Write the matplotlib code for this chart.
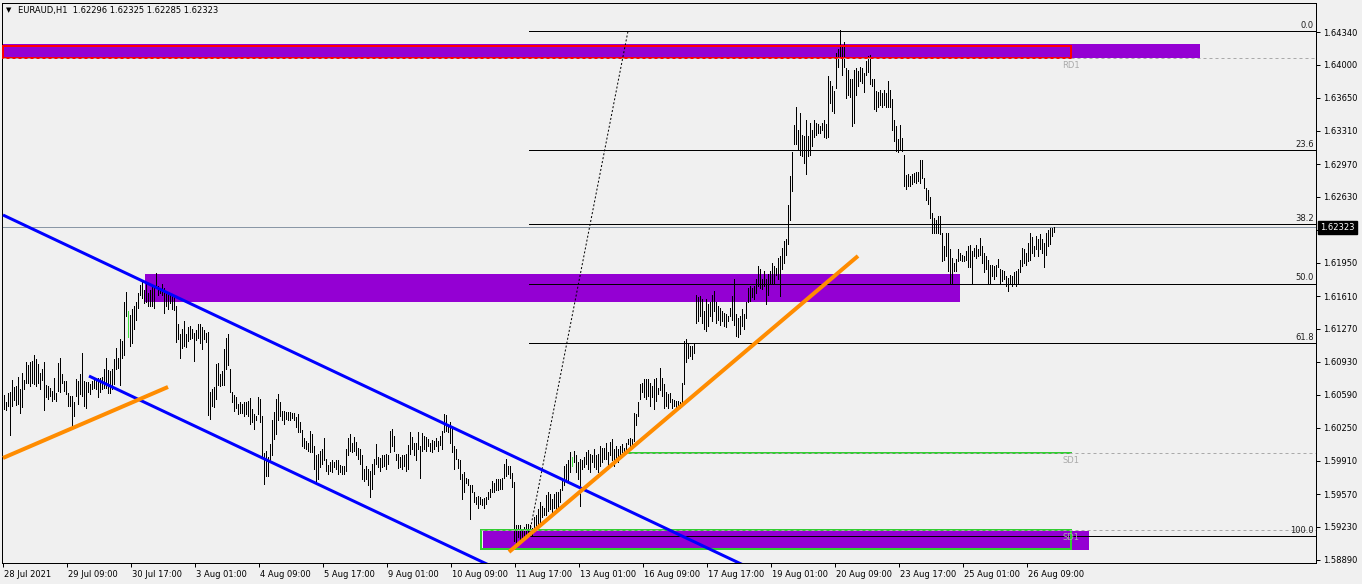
import numpy as np
import matplotlib
matplotlib.use("Agg")
import matplotlib.pyplot as plt
from matplotlib.transforms import ScaledTranslation

W, H, DPI = 1362, 584, 100

# ---------------------------------------------------------------
# EURAUD H1 bars, high / low in pips (units of 0.0001)
# ---------------------------------------------------------------
high_a = [16059, 16052, 16061, 16062, 16075, 16068, 16069, 16078, 16065, 16082,
          16075, 16093, 16090, 16093, 16094, 16101, 16096, 16091, 16082, 16086,
          16093, 16070, 16069, 16067, 16063, 16077, 16061, 16092, 16098, 16081,
          16074, 16074, 16061, 16058, 16058, 16052, 16076, 16074, 16081, 16103,
          16074, 16073, 16073, 16071, 16074, 16077, 16077, 16077, 16077, 16078,
          16086, 16097, 16085, 16084, 16086, 16096, 16108, 16098, 16117, 16115,
          16155, 16166, 16146, 16142, 16148, 16151, 16155, 16165, 16173, 16178,
          16168, 16176, 16165, 16168, 16172, 16170, 16185, 16172, 16170, 16174,
          16170, 16166, 16165, 16165, 16164, 16161, 16151, 16133, 16122, 16127,
          16136, 16122, 16129, 16131, 16127, 16123, 16126, 16133, 16133, 16129,
          16126, 16123, 16124, 16062, 16065, 16068, 16091, 16092, 16081, 16084,
          16107, 16118, 16122, 16086, 16062, 16059, 16057, 16050, 16052, 16050,
          16052, 16052, 16053, 16056, 16045, 16040, 16038, 16057, 16055, 16038,
          15999]
low_a = [16045, 16044, 16048, 16018, 16048, 16054, 16049, 16050, 16041, 16047,
         16065, 16072, 16072, 16069, 16072, 16071, 16069, 16072, 16065, 16075,
         16044, 16057, 16055, 16058, 16053, 16055, 16053, 16063, 16062, 16072,
         16063, 16060, 16048, 16048, 16026, 16038, 16058, 16050, 16060, 16058,
         16048, 16046, 16062, 16060, 16065, 16067, 16065, 16057, 16062, 16066,
         16067, 16067, 16061, 16061, 16065, 16071, 16086, 16087, 16070, 16098,
         16101, 16141, 16119, 16110, 16113, 16127, 16137, 16149, 16163, 16159,
         16154, 16155, 16151, 16151, 16151, 16149, 16172, 16163, 16165, 16163,
         16144, 16151, 16148, 16154, 16148, 16147, 16114, 16117, 16097, 16108,
         16110, 16109, 16115, 16117, 16118, 16094, 16116, 16118, 16113, 16107,
         16117, 16114, 16039, 16035, 16048, 16047, 16055, 16070, 16069, 16070,
         16070, 16086, 16090, 16062, 16052, 16043, 16046, 16040, 16041, 16041,
         16038, 16040, 16038, 16029, 16031, 16024, 16033, 16040, 16031, 15995,
         15967]

high_b = [16001, 15995, 16009, 16034, 16042, 16055, 16060, 16052, 16043, 16043,
          16042, 16042, 16042, 16041, 16041, 16037, 16040, 16031, 16023, 16015,
          16012, 16010, 16022, 16019, 16007, 15997, 15998, 16002, 16004, 16015,
          15993, 15987, 15990, 15992, 15990, 15992, 15992, 15987, 15986, 15986,
          16004, 16015, 16019, 16010, 16016, 16011, 16005, 16004, 15997, 15983,
          15986, 15983, 15981, 15988, 15993, 16009, 15995, 15994, 15997, 15997,
          15998, 15997, 16022, 16024, 16017, 15998, 15998, 15995, 15997, 15997,
          15998, 16008, 16021, 16016, 16010, 16010, 16021, 16007, 16020, 16017,
          16016, 16014, 16010, 16013, 16012, 16015, 16012, 16017, 16022, 16040,
          16039, 16029, 16031, 16024, 16007, 16004, 15993, 15992, 15978, 15980,
          15974, 15973, 15966, 15966, 15959, 15954, 15955, 15954, 15952, 15953,
          15954, 15959, 15962, 15971, 15968, 15973, 15973, 15973, 15974, 15988,
          15993, 15986, 15986, 15979, 15969, 15925, 15925, 15925, 15919, 15923,
          15926]
low_b = [15976, 15976, 15990, 15997, 16014, 16019, 16034, 16038, 16033, 16029,
         16035, 16034, 16034, 16036, 16034, 16026, 16021, 16021, 16007, 16005,
         16004, 16002, 16000, 16000, 15983, 15969, 15973, 15985, 15988, 15992,
         15981, 15978, 15981, 15980, 15985, 15983, 15978, 15980, 15978, 15978,
         15981, 15997, 16002, 16000, 16002, 15997, 15993, 15988, 15973, 15971,
         15973, 15966, 15954, 15962, 15978, 15988, 15985, 15981, 15985, 15986,
         15983, 15988, 16000, 16007, 16002, 15992, 15984, 15985, 15983, 15986,
         15981, 15983, 15998, 16004, 15997, 15992, 16004, 15974, 16002, 16004,
         16001, 16007, 16002, 16000, 16004, 16007, 16002, 16008, 16004, 16021,
         16022, 16021, 16010, 16000, 15983, 15993, 15984, 15973, 15952, 15959,
         15968, 15966, 15931, 15959, 15949, 15947, 15943, 15947, 15946, 15943,
         15947, 15952, 15954, 15959, 15959, 15961, 15961, 15962, 15962, 15974,
         15976, 15978, 15974, 15964, 15909, 15907, 15913, 15911, 15913, 15914,
         15914]

high_c = [15926, 15925, 15922, 15933, 15935, 15942, 15949, 15945, 15943, 15956,
          15959, 15957, 15952, 15957, 15959, 15959, 15962, 15974, 15986, 15988,
          15992, 16000, 15995, 16001, 15997, 15990, 15993, 15992, 15995, 16000,
          16003, 15998, 15997, 16004, 15997, 15998, 16007, 16005, 16005, 16010,
          16000, 16011, 16014, 16004, 16007, 16004, 16007, 16009, 16005, 16010,
          16014, 16015, 16014, 16041, 16040, 16052, 16071, 16072, 16076, 16076,
          16076, 16072, 16069, 16076, 16077, 16067, 16087, 16077, 16071, 16062,
          16060, 16061, 16055, 16054, 16053, 16053, 16052, 16072, 16115, 16117,
          16113, 16110, 16110, 16113, 16163, 16160, 16161, 16158, 16146, 16158,
          16153, 16155, 16163, 16167, 16155, 16151, 16149, 16146, 16144, 16143,
          16141, 16149, 16161, 16179, 16143, 16139, 16141, 16148, 16143, 16155,
          16170, 16172, 16170, 16172, 16179, 16192, 16189, 16179, 16187, 16179,
          16184, 16187, 16196, 16192, 16190, 16201, 16203, 16211, 16218, 16220]
low_c = [15918, 15916, 15914, 15918, 15921, 15926, 15928, 15933, 15935, 15935,
         15940, 15942, 15935, 15943, 15940, 15943, 15949, 15961, 15966, 15971,
         15969, 15980, 15986, 15990, 15980, 15973, 15945, 15983, 15985, 15988,
         15983, 15980, 15990, 15985, 15983, 15980, 15986, 15990, 15993, 15993,
         15983, 15997, 15992, 15986, 15993, 15990, 15997, 16000, 16000, 16002,
         16009, 16005, 16008, 16012, 16028, 16038, 16055, 16062, 16057, 16055,
         16058, 16048, 16057, 16045, 16053, 16060, 16064, 16058, 16046, 16048,
         16046, 16052, 16046, 16048, 16045, 16048, 16046, 16050, 16071, 16093,
         16098, 16100, 16096, 16103, 16134, 16136, 16141, 16134, 16127, 16125,
         16131, 16141, 16136, 16146, 16134, 16137, 16132, 16136, 16131, 16129,
         16136, 16141, 16137, 16132, 16120, 16119, 16122, 16131, 16127, 16139,
         16155, 16156, 16160, 16158, 16165, 16172, 16170, 16169, 16172, 16153,
         16163, 16174, 16175, 16175, 16183, 16179, 16161, 16189, 16196, 16204]

high_d = [16255, 16285, 16310, 16338, 16357, 16333, 16350, 16328, 16327, 16343,
          16327, 16340, 16333, 16343, 16340, 16339, 16337, 16340, 16343, 16339,
          16389, 16383, 16378, 16373, 16412, 16416, 16436, 16421, 16424, 16397,
          16395, 16385, 16385, 16395, 16397, 16394, 16398, 16397, 16392, 16404,
          16409, 16410, 16386, 16385, 16373, 16372, 16374, 16371, 16374, 16371,
          16383, 16374, 16365, 16343, 16337, 16324, 16338, 16325, 16307, 16286,
          16287, 16285, 16287, 16288, 16290, 16289, 16302, 16302, 16283, 16273,
          16271, 16264, 16247, 16242, 16240, 16244, 16244, 16227, 16213, 16227,
          16227, 16210, 16201, 16196, 16200, 16210, 16206, 16204, 16203, 16208,
          16213, 16214, 16208, 16211, 16214, 16210, 16221, 16213, 16206, 16203,
          16199, 16193, 16194, 16192, 16194, 16200, 16189, 16188, 16187, 16182,
          16180, 16183, 16182, 16186, 16187, 16189, 16199, 16211, 16210, 16206,
          16216, 16227, 16222, 16213, 16223, 16220, 16225, 16220, 16216, 16227,
          16230, 16232, 16232, 16233]
low_d = [16215, 16240, 16270, 16318, 16318, 16313, 16307, 16306, 16299, 16287,
         16306, 16307, 16316, 16326, 16328, 16330, 16330, 16333, 16326, 16325,
         16326, 16361, 16352, 16350, 16376, 16398, 16407, 16390, 16398, 16366,
         16369, 16367, 16337, 16340, 16369, 16378, 16383, 16381, 16372, 16390,
         16393, 16380, 16378, 16355, 16352, 16357, 16359, 16357, 16359, 16357,
         16357, 16357, 16333, 16321, 16311, 16310, 16313, 16311, 16275, 16272,
         16275, 16275, 16277, 16279, 16278, 16280, 16278, 16283, 16273, 16261,
         16256, 16242, 16227, 16227, 16227, 16227, 16225, 16198, 16199, 16203,
         16187, 16174, 16175, 16187, 16187, 16198, 16199, 16198, 16198, 16199,
         16191, 16191, 16175, 16203, 16201, 16203, 16204, 16196, 16186, 16189,
         16175, 16174, 16182, 16179, 16182, 16191, 16175, 16177, 16179, 16172,
         16167, 16175, 16172, 16175, 16172, 16175, 16186, 16192, 16196, 16194,
         16198, 16199, 16206, 16203, 16210, 16203, 16210, 16206, 16191, 16204,
         16213, 16215, 16223, 16228]

# bars drawn in the "doji" colour
doji_bars = [62, 284]

# time axis: one label every 32 bars
time_labels = ["28 Jul 2021", "29 Jul 09:00", "30 Jul 17:00", "3 Aug 01:00",
               "4 Aug 09:00", "5 Aug 17:00", "9 Aug 01:00", "10 Aug 09:00",
               "11 Aug 17:00", "13 Aug 01:00", "16 Aug 09:00", "17 Aug 17:00",
               "19 Aug 01:00", "20 Aug 09:00", "23 Aug 17:00", "25 Aug 01:00",
               "26 Aug 09:00"]
bars_per_label = 32

# price axis labels (the one under the current-price box is hidden)
price_labels = ["1.64340", "1.64000", "1.63650", "1.63310", "1.62970", "1.62630",
                "", "1.61950", "1.61610", "1.61270", "1.60930", "1.60590",
                "1.60250", "1.59910", "1.59570", "1.59230", "1.58890"]

symbol_text = "EURAUD,H1  1.62296 1.62325 1.62285 1.62323"
last_price = 1.62323

# Fibonacci retracement anchors (bar index, price) and levels
fib_low = (262.5, 1.59138)
fib_high = (312.0, 1.64350)
fib_levels = [0.0, 23.6, 38.2, 50.0, 61.8, 100.0]

# supply / demand zones: (bar from, bar to, price low, price high)
rd1_zone = (-0.5, 598.0, 1.64072, 1.64216)
rd1_box = (-0.5, 533.5, 1.64072, 1.64196)
mid_zone = (70.5, 478.0, 1.61553, 1.61842)
sd1_zone = (239.5, 542.5, 1.58993, 1.59189)
sd1_box = (238.5, 533.5, 1.59004, 1.59200)
sd1_upper = (310.5, 533.5, 1.59994)

# trend lines: ((bar, price), (bar, price))
blue_lines = [((-0.5, 1.62451), (378.0, 1.58757)),
              ((42.5, 1.60789), (248.0, 1.58784))]
orange_lines = [((-0.5, 1.59943), (82.0, 1.60676)),
                ((252.5, 1.58973), (427.0, 1.62028))]

# ---------------------------------------------------------------
bar_high = np.array(high_a + high_b + high_c + high_d) / 1e4
bar_low = np.array(low_a + low_b + low_c + low_d) / 1e4
bar_x = np.arange(len(bar_high))

BG = "#F0F0F0"
PURPLE = "#9400D3"
GREEN = "#32CD32"
GREY = "#AAAAAA"
PX = 72.0 / DPI  # one pixel in points

fig = plt.figure(figsize=(W / DPI, H / DPI), dpi=DPI, facecolor=BG)
ax = fig.add_axes([2 / W, (H - 563) / H, (1316 - 2) / W, (563 - 3) / H])
ax.set_facecolor(BG)

x_max = 656
ax.set_xlim(-1, x_max)
top_price, bottom_price = 1.64340, 1.58890
per_px = (top_price - bottom_price) / 528.0
ax.set_ylim(bottom_price - 3 * per_px, top_price + 29 * per_px)


def zone(z, **kw):
    x0, x1, p0, p1 = z
    ax.add_patch(plt.Rectangle((x0, p0), x1 - x0, p1 - p0, **kw))


# background zones
zone(rd1_zone, facecolor=PURPLE, edgecolor="none", zorder=1)
zone(mid_zone, facecolor=PURPLE, edgecolor="none", zorder=1)
zone(sd1_zone, facecolor=PURPLE, edgecolor="none", zorder=1)

# price bars
ax.vlines(bar_x, bar_low, bar_high, colors="black", linewidth=PX,
          antialiased=False, zorder=3)
ax.vlines(doji_bars, bar_low[doji_bars], bar_high[doji_bars], colors="#3CE03C",
          linewidth=PX, antialiased=False, zorder=3)

# current price line
ax.axhline(last_price, color="#8A97A6", linewidth=PX, zorder=2)

# Fibonacci retracement
fib_range = fib_high[1] - fib_low[1]
for lvl in fib_levels:
    p = fib_high[1] - lvl / 100 * fib_range
    ax.plot([fib_low[0], x_max], [p, p], color="black", linewidth=PX, zorder=4)
    ax.annotate(f"{lvl:.1f}", xy=(1, p), xycoords=("axes fraction", "data"),
                xytext=(-1.5, 1), textcoords="offset points",
                ha="right", va="bottom", fontsize=6, color="#202020", zorder=6)
ax.plot([fib_low[0], fib_high[0]], [fib_low[1], fib_high[1]], color="black",
        linewidth=PX, linestyle=(0, (2, 2)), zorder=4)

# RD1 box and level
zone(rd1_box, facecolor="none", edgecolor="#FF0000", linewidth=2 * PX, zorder=4)
ax.plot([rd1_zone[0], x_max], [rd1_zone[2]] * 2, color=GREY, linewidth=PX,
        linestyle=(0, (3, 3)), zorder=5)
ax.annotate("RD1", xy=(rd1_box[1], rd1_zone[2]), xytext=(0, -2),
            textcoords="offset points", ha="center", va="top", fontsize=6,
            color=GREY, zorder=6)

# SD1 box, levels
zone(sd1_box, facecolor="none", edgecolor=GREEN, linewidth=2 * PX, zorder=4)
ax.plot([sd1_box[0], x_max], [sd1_box[3]] * 2, color=GREY, linewidth=PX,
        linestyle=(0, (3, 3)), zorder=5)
ax.annotate("SD1", xy=(sd1_box[1], sd1_box[3]), xytext=(0, -2),
            textcoords="offset points", ha="center", va="top", fontsize=6,
            color=GREY, zorder=6)
ax.plot(sd1_upper[:2], [sd1_upper[2]] * 2, color=GREEN, linewidth=2 * PX, zorder=4)
ax.plot([sd1_upper[0], x_max], [sd1_upper[2]] * 2, color=GREY, linewidth=PX,
        linestyle=(0, (3, 3)), zorder=5)
ax.annotate("SD1", xy=(sd1_upper[1], sd1_upper[2]), xytext=(0, -2),
            textcoords="offset points", ha="center", va="top", fontsize=6,
            color=GREY, zorder=6)

# trend lines
for (a, b) in blue_lines:
    ax.plot([a[0], b[0]], [a[1], b[1]], color="#0000FF", linewidth=3 * PX,
            solid_capstyle="butt", zorder=5)
for (a, b) in orange_lines:
    ax.plot([a[0], b[0]], [a[1], b[1]], color="#FF8C00", linewidth=4 * PX,
            solid_capstyle="butt", zorder=5)

# axes, ticks and labels
for s in ax.spines.values():
    s.set_linewidth(PX)
    s.set_color("black")

ax.set_xticks(np.arange(len(time_labels)) * bars_per_label - 0.5)
ax.set_xticklabels(time_labels)
ax.tick_params(axis="x", direction="out", length=3, width=PX, pad=2,
               labelsize=6, colors="black")
shift = ScaledTranslation(1 / DPI, 0, fig.dpi_scale_trans)
for lab in ax.get_xticklabels():
    lab.set_horizontalalignment("left")
    lab.set_transform(lab.get_transform() + shift)

ax.yaxis.tick_right()
ax.set_yticks(np.linspace(top_price, bottom_price, len(price_labels)))
ax.set_yticklabels(price_labels)
ax.tick_params(axis="y", direction="out", length=3, width=PX, pad=2,
               labelsize=6, colors="black")

# current price box on the price scale
ax.annotate(f"{last_price:.5f}", xy=(1, last_price),
            xycoords=("axes fraction", "data"), xytext=(3, 0),
            textcoords="offset points", ha="left", va="center", fontsize=6,
            color="white", zorder=10, annotation_clip=False,
            bbox=dict(boxstyle="square,pad=0.25", facecolor="black",
                      edgecolor="black"))

# symbol header
fig.text(6 / W, 1 - 10 / H, "\u25BC", fontsize=5, va="center", ha="left")
fig.text(18 / W, 1 - 10 / H, symbol_text, fontsize=6, va="center", ha="left")

fig.savefig("out.png", dpi=DPI, facecolor=BG)
